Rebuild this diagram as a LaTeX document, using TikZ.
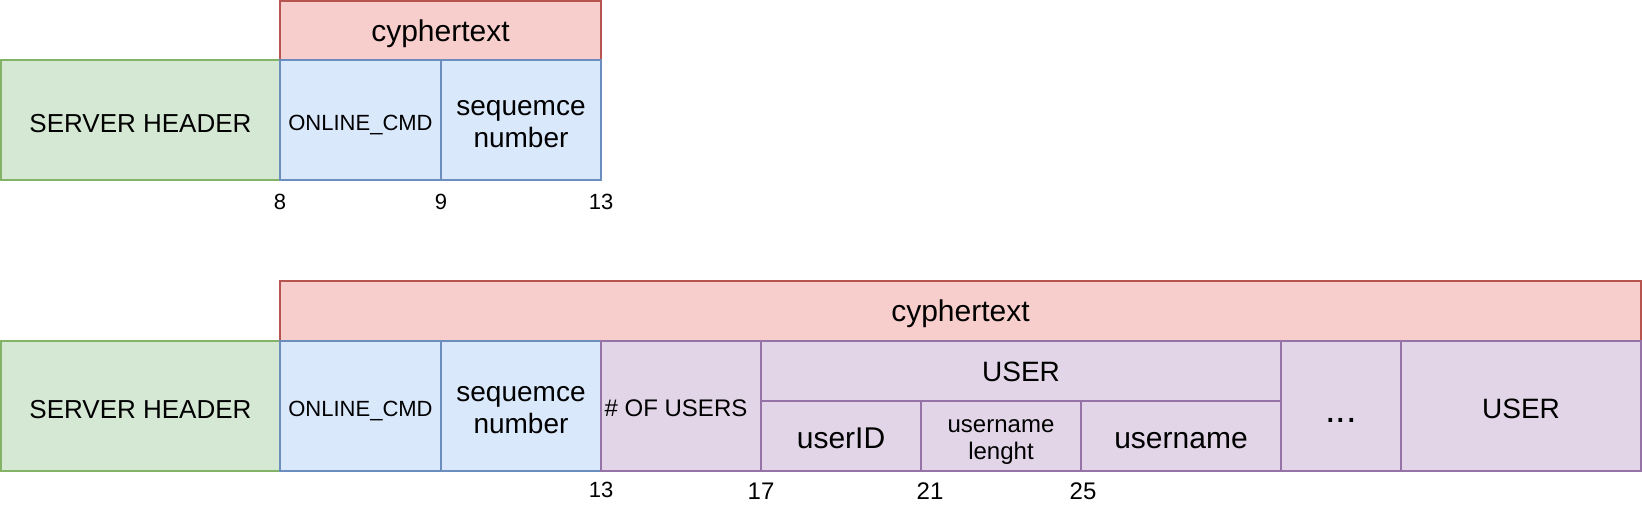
\documentclass[tikz,border=0pt]{standalone}
\usepackage{fontspec}
\setmainfont{Liberation Sans}
\usetikzlibrary{fit}
\definecolor{gfill}{HTML}{D5E8D4}\definecolor{gdraw}{HTML}{82B366}
\definecolor{bfill}{HTML}{DAE8FC}\definecolor{bdraw}{HTML}{6C8EBF}
\definecolor{rfill}{HTML}{F8CECC}\definecolor{rdraw}{HTML}{B85450}
\definecolor{pfill}{HTML}{E1D5E7}\definecolor{pdraw}{HTML}{9673A6}
\newcommand{\fs}[1]{\fontsize{#1}{#1}\selectfont\setlength{\baselineskip}{1.15em}}
\tikzset{
  cell/.style={draw, line width=1pt, inner sep=0pt, outer sep=0pt, align=center},
  green/.style={cell, fill=gfill, draw=gdraw},
  blue/.style={cell, fill=bfill, draw=bdraw},
  red/.style={cell, fill=rfill, draw=rdraw},
  purple/.style={cell, fill=pfill, draw=pdraw},
  lbl/.style={inner sep=0pt, font=\fs{11}},
  lblb/.style={inner sep=0pt, font=\fs{12}},
}
\begin{document}
\begin{tikzpicture}[x=0.5pt,y=-0.5pt]
\useasboundingbox (0,0) rectangle (1642,514);
% top
\node[red, fit={(280,1) (601,60)}] (ct1) {};
\node[font=\fs{15}] at ([yshift=-1.5pt]ct1.center) {cyphertext};
\node[green, fit={(1,60) (280,180)}] (sh1) {};
\node[font=\fs{13}] at ([yshift=-2pt]sh1.center) {SERVER HEADER};
\node[blue, fit={(280,60) (441,180)}] (oc1) {};
\node[font=\fs{11}] at ([yshift=-2.5pt]oc1.center) {ONLINE\_CMD};
\node[blue, fit={(441,60) (601,180)}] (sq1) {};
\node[font=\fs{14}, align=center] at ([yshift=-2pt]sq1.center) {sequemce\\number};
\node[lbl] (t8) at (280,202) {8};
\node[lbl] (t9) at (441,202) {9};
\node[lbl] (t13) at (601,202) {13};
% bottom
\node[red, fit={(280,281) (1641,341)}] (ct2) {};
\node[font=\fs{15}] at ([yshift=-1.5pt]ct2.center) {cyphertext};
\node[green, fit={(1,341) (280,471)}] (sh2) {};
\node[font=\fs{13}] at ([yshift=-2pt]sh2.center) {SERVER HEADER};
\node[blue, fit={(280,341) (441,471)}] (oc2) {};
\node[font=\fs{11}] at ([yshift=-2.5pt]oc2.center) {ONLINE\_CMD};
\node[blue, fit={(441,341) (601,471)}] (sq2) {};
\node[font=\fs{14}, align=center] at ([yshift=-2pt]sq2.center) {sequemce\\number};
\node[purple, fit={(601,341) (761,471)}] (nu) {};
\node[font=\fs{12}] at ([xshift=-2.5pt,yshift=-1pt]nu.center) {\# OF USERS};
\node[purple, fit={(761,341) (1281,401)}] (us) {};
\node[font=\fs{14}] at ([yshift=-0.5pt]us.center) {USER};
\node[purple, fit={(761,401) (921,471)}] (uid) {};
\node[font=\fs{15}] at ([yshift=-1pt]uid.center) {userID};
\node[purple, fit={(921,401) (1081,471)}] (ul) {};
\node[font=\fs{12}, align=center] at ([yshift=-3pt]ul.center) {username\\lenght};
\node[purple, fit={(1081,401) (1281,471)}] (un) {};
\node[font=\fs{15}] at ([yshift=-2.5pt]un.center) {username};
\node[purple, fit={(1281,341) (1401,471)}] (dd) {};
\node[font=\fs{19}] at ([yshift=-7pt]dd.center) {...};
\node[purple, fit={(1401,341) (1641,471)}] (us2) {};
\node[font=\fs{14}] at ([yshift=-1.5pt]us2.center) {USER};
\node[lbl] (b13) at (601,490) {13};
\node[lblb] (b17) at (761,491) {17};
\node[lblb] (b21) at (930,491) {21};
\node[lblb] (b25) at (1083,491) {25};
\end{tikzpicture}
\end{document}
